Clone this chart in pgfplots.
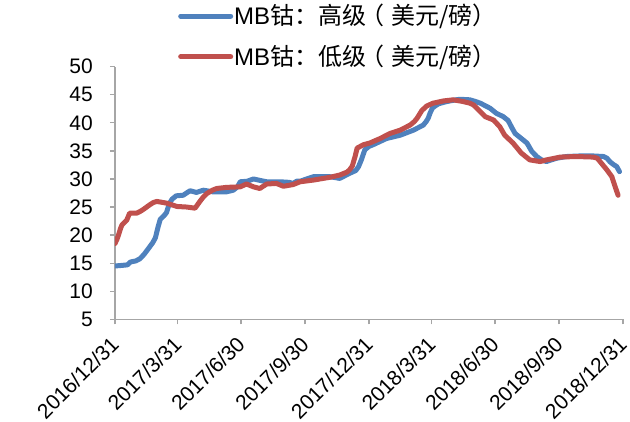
\documentclass[border=0pt]{standalone}
\usepackage{fontspec}
\setmainfont{Liberation Sans}
\newfontfamily\cjk{Noto Sans CJK SC}
\usepackage{pgfplots}
\pgfplotsset{compat=1.18}
\definecolor{cblue}{RGB}{79,129,189}
\definecolor{cred}{RGB}{192,80,77}
\definecolor{axgray}{RGB}{166,166,166}
\newcommand{\lp}{\kern-0.25em（\kern0.3em}
\begin{document}
\fontsize{21}{25}\selectfont
\begin{tikzpicture}
\path[use as bounding box] (-115pt,-102.7pt) rectangle (515pt,319.3pt);
\begin{axis}[
  at={(0pt,0pt)}, anchor=south west,
  scale only axis, width=508pt, height=252.6pt,
  xmin=0, xmax=730, ymin=5, ymax=50,
  axis x line*=bottom, axis y line*=left,
  axis line style={draw=axgray, line width=1.3pt},
  every tick/.style={draw=axgray, line width=1.3pt},
  tick align=outside, major tick length=5pt,
  xtick={0,90,181,273,365,455,546,638,730},
  xticklabels={2016/12/31,2017/3/31,2017/6/30,2017/9/30,2017/12/31,2018/3/31,2018/6/30,2018/9/30,2018/12/31},
  ytick={5,10,...,50},
  /pgf/number format/assume math mode=true,
  tick label style={font=\fontsize{21}{25}\selectfont},
  xticklabel style={xshift=0pt, yshift=-16pt, rotate=45, anchor=east, inner sep=0pt},
  yticklabel style={anchor=east, inner sep=0pt, xshift=-17pt},
  legend style={at={(axis description cs:0.124,1.252)}, anchor=north west, draw=none, fill=none,
    font=\fontsize{24}{28}\selectfont, row sep=15pt, inner sep=0pt,
    nodes={inner sep=1pt}},
  legend cell align=left,
  legend image code/.code={\draw[#1, line width=5pt, line cap=round] (2.5pt,0pt) -- (52.5pt,0pt);},
]
\addplot[cblue, line width=5pt, line join=round, line cap=round] coordinates {
(0,14.5)(10,14.6)(18,14.7)(22,15.2)(30,15.4)(36,15.8)(42,16.6)(48,17.6)(54,18.6)(58,19.5)
(62,21.5)(65,22.8)(70,23.4)(74,24.0)(78,25.6)(82,26.4)(88,27.0)(98,27.1)(104,27.6)(108,27.9)
(117,27.6)(127,28.0)(141,27.7)(160,27.7)(170,28.0)(176,28.6)(180,29.5)(190,29.6)(199,30.0)
(210,29.7)(218,29.5)(237,29.5)(250,29.4)(256,29.2)(261,29.6)(266,29.6)(285,30.4)(309,30.4)
(323,30.1)(337,31.0)(346,31.5)(350,32.2)(354,33.4)(359,35.2)(365,35.8)(371,36.1)(390,37.2)
(410,37.8)(429,38.7)(443,39.6)(447,40.2)(450,40.8)(453,41.8)(456,42.6)(460,43.0)(465,43.4)
(477,43.8)(490,44.1)(496,44.2)(510,44.1)(518,43.8)(525,43.5)(539,42.6)(548,41.7)(558,41.1)
(565,40.4)(570,39.2)(575,38.1)(584,37.2)(592,36.4)(599,34.9)(606,34.0)(613,33.4)(620,33.1)
(627,33.4)(635,33.7)(649,34.0)(668,34.1)(687,34.1)(702,34.0)(707,33.7)(711,33.1)(716,32.6)
(721,32.2)(725,31.3)
};
\addlegendentry{MB\cjk{钴：高级\lp 美元/磅）}}
\addplot[cred, line width=5pt, line join=round, line cap=round] coordinates {
(0,18.5)(3,19.3)(5,20.0)(8,21.2)(10,21.8)(14,22.3)(17,22.7)(21,23.9)(31,23.9)(36,24.2)
(41,24.6)(50,25.4)(55,25.8)(60,26.0)(74,25.7)(89,25.1)(103,25.0)(115,24.8)(118,25.3)(122,26.0)
(127,26.8)(132,27.4)(140,28.0)(146,28.3)(160,28.5)(180,28.6)(189,29.1)(199,28.6)(208,28.3)
(218,29.1)(232,29.2)(242,28.7)(256,29.0)(266,29.5)(285,29.8)(309,30.3)(323,30.7)(333,31.2)
(337,31.6)(341,32.3)(345,34.0)(348,35.5)(357,36.1)(366,36.4)(381,37.2)(395,38.1)(410,38.7)
(424,39.6)(430,40.2)(434,40.8)(438,41.6)(441,42.2)(448,43.0)(457,43.5)(472,43.9)(486,44.1)
(500,43.8)(510,43.5)(515,43.2)(520,42.6)(532,41.1)(544,40.5)(553,39.3)(560,37.8)(572,36.4)
(584,34.6)(590,34.0)(596,33.4)(611,33.1)(620,33.4)(640,33.9)(663,34.0)(687,33.9)(693,33.7)
(697,33.1)(707,31.6)(714,30.4)(718,28.9)(721,27.8)(723,27.1)
};
\addlegendentry{MB\cjk{钴：低级\lp 美元/磅）}}
\end{axis}
\end{tikzpicture}
\end{document}
